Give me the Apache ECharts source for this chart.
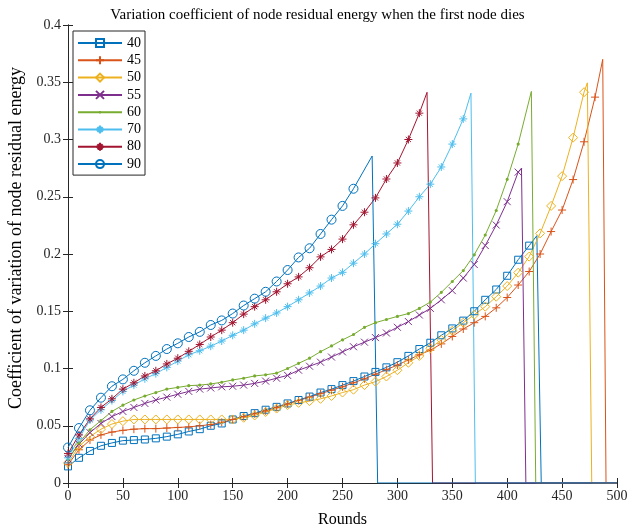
<!DOCTYPE html>
<html>
<head>
<meta charset="utf-8">
<script src="https://cdn.jsdelivr.net/npm/echarts@6/dist/echarts.min.js"></script>
<style>
    html, body { margin: 0; padding: 0; background: #fff; }
    #chart { width: 635px; height: 528px; }
</style>
</head>
<body>
<div id="chart"></div>
<script>
// node counts (legend) and matlab default colours
const names = ['40', '45', '50', '55', '60', '70', '80', '90'];
const colors = ['#0072BD', '#D95319', '#EDB120', '#7E2F8E', '#77AC30', '#4DBEEE', '#A2142F', '#0072BD'];

// markers are every 10 rounds, starting at round 0
const markerStep = 10;
const cv40 = [0.0145, 0.022, 0.028, 0.0325, 0.035, 0.037, 0.0375, 0.038, 0.039, 0.0405, 0.0425, 0.045, 0.047, 0.05, 0.052,
    0.0555, 0.0585, 0.061, 0.064, 0.0665, 0.0695, 0.0725, 0.0755, 0.079, 0.082, 0.0855, 0.089, 0.093, 0.097, 0.101,
    0.1055, 0.111, 0.117, 0.1225, 0.129, 0.135, 0.1418, 0.15, 0.16, 0.169, 0.181, 0.195, 0.2073];
const cv45 = [0.016, 0.029, 0.0375, 0.042, 0.0445, 0.046, 0.047, 0.0475, 0.0475, 0.048, 0.0485, 0.049, 0.05, 0.051, 0.053,
    0.0555, 0.058, 0.0605, 0.063, 0.066, 0.069, 0.072, 0.075, 0.078, 0.081, 0.084, 0.0875, 0.091, 0.095, 0.099,
    0.103, 0.1075, 0.112, 0.116, 0.1215, 0.128, 0.1345, 0.14, 0.1455, 0.153, 0.162, 0.1729, 0.1847, 0.2, 0.2196,
    0.2384, 0.265, 0.298, 0.337];
const cv50 = [0.0175, 0.032, 0.0405, 0.047, 0.0515, 0.054, 0.0555, 0.0555, 0.0555, 0.0555, 0.0555, 0.0555, 0.0555, 0.0555, 0.0555,
    0.0555, 0.057, 0.059, 0.062, 0.065, 0.068, 0.07, 0.0715, 0.0735, 0.076, 0.079, 0.0815, 0.0855, 0.0885, 0.093,
    0.0985, 0.105, 0.111, 0.1177, 0.125, 0.133, 0.14, 0.147, 0.154, 0.1627, 0.172, 0.1837, 0.1977, 0.218, 0.242,
    0.268, 0.3016, 0.3413];
const cv55 = [0.021, 0.034, 0.044, 0.052, 0.058, 0.0625, 0.066, 0.0695, 0.0725, 0.075, 0.0775, 0.08, 0.082, 0.083, 0.084,
    0.0845, 0.0855, 0.087, 0.089, 0.0915, 0.094, 0.0985, 0.102, 0.1055, 0.11, 0.1145, 0.119, 0.123, 0.127, 0.131,
    0.136, 0.141, 0.1467, 0.1525, 0.16, 0.168, 0.179, 0.1908, 0.2074, 0.2253, 0.2457, 0.2715];
const cv60 = [0.0205, 0.035, 0.0465, 0.0545, 0.0625, 0.068, 0.0725, 0.076, 0.079, 0.082, 0.0835, 0.085, 0.0855, 0.0865, 0.088,
    0.09, 0.0915, 0.0935, 0.0945, 0.096, 0.1, 0.1045, 0.109, 0.1147, 0.1197, 0.125, 0.1297, 0.136, 0.14, 0.1428,
    0.1455, 0.148, 0.1525, 0.158, 0.1665, 0.176, 0.1855, 0.1993, 0.2166, 0.238, 0.2652, 0.296];
const cv70 = [0.022, 0.039, 0.055, 0.064, 0.072, 0.08, 0.0855, 0.091, 0.0955, 0.101, 0.1065, 0.112, 0.1155, 0.1195, 0.124,
    0.129, 0.1335, 0.139, 0.144, 0.1485, 0.154, 0.16, 0.166, 0.172, 0.179, 0.184, 0.192, 0.2, 0.209, 0.2175,
    0.226, 0.2375, 0.25, 0.261, 0.276, 0.296, 0.318];
const cv80 = [0.0257, 0.042, 0.056, 0.066, 0.0735, 0.082, 0.0875, 0.0935, 0.098, 0.104, 0.109, 0.115, 0.121, 0.1275, 0.1335,
    0.14, 0.1475, 0.154, 0.16, 0.167, 0.174, 0.18, 0.188, 0.1975, 0.204, 0.213, 0.2255, 0.2365, 0.249, 0.2655,
    0.2795, 0.3, 0.323];
const cv90 = [0.031, 0.048, 0.0635, 0.0745, 0.0845, 0.0905, 0.098, 0.105, 0.111, 0.117, 0.122, 0.1275, 0.132, 0.138, 0.142,
    0.148, 0.155, 0.161, 0.167, 0.176, 0.186, 0.197, 0.205, 0.2175, 0.23, 0.242, 0.257];
const values = [cv40, cv45, cv50, cv55, cv60, cv70, cv80, cv90];

// value reached just before the first node dies, then the curve falls to 0
const peakRound = [427, 487, 473, 413, 422, 367, 327, 277];
const peakValue = [0.216, 0.370, 0.3495, 0.275, 0.342, 0.3405, 0.3412, 0.2856];
const deathRound = [431, 490, 477, 417, 426, 371, 332, 282];
const endRound = 500;

const plus = 'path://M5,0V10M0,5H10';
const cross = 'path://M0.5,0.5L9.5,9.5M9.5,0.5L0.5,9.5';
const star = 'path://M5,0V10M0,5H10M1.8,1.8L8.2,8.2M8.2,1.8L1.8,8.2';
// small dot inside an empty 10x10 box, so it stays small in the legend too
const dot = 'path://M0,0L0.01,0M10,10L9.99,10M6.6,5A1.6,1.6,0,1,1,6.6,4.99Z';
const symbols = ['rect', plus, 'diamond', cross, dot, star, star, 'circle'];
const symbolSizes = [7, 8, 9, 7, 10, 8, 8, 9];

const font = 'Liberation Serif';

var series = names.map(function (name, k) {
    var data = values[k].map(function (v, i) { return [i * markerStep, v]; });
    data.push({ value: [peakRound[k], peakValue[k]], symbol: 'none' });
    data.push({ value: [deathRound[k], 0], symbol: 'none' });
    data.push({ value: [endRound, 0], symbol: 'none' });
    var filled = k === 4;
    return {
        name: name,
        type: 'line',
        data: data,
        color: colors[k],
        symbol: symbols[k],
        symbolSize: symbolSizes[k],
        showAllSymbol: true,
        animation: false,
        lineStyle: { color: colors[k], width: 1 },
        itemStyle: filled ? { color: colors[k], borderWidth: 0 } : { color: 'rgba(0,0,0,0)', borderColor: colors[k], borderWidth: 1 },
        emphasis: { disabled: true }
    };
});

var chart = echarts.init(document.getElementById('chart'));
var axisLine = { show: true, lineStyle: { color: '#262626', width: 1 } };
var tick = { show: true, inside: true, length: 5, lineStyle: { color: '#262626' } };
var option = {
    backgroundColor: '#fff',
    animation: false,
    title: {
        text: 'Variation coefficient of node residual energy when the first node dies',
        left: 'center',
        top: 3,
        textStyle: { fontFamily: font, fontSize: 15, fontWeight: 'normal', color: '#000' }
    },
    legend: {
        orient: 'vertical',
        left: 73,
        top: 31,
        data: names,
        itemWidth: 44,
        itemHeight: 10,
        itemGap: 3.3,
        padding: [5, 4, 4, 4],
        borderColor: '#262626',
        borderWidth: 1,
        backgroundColor: '#fff',
        textStyle: { fontFamily: font, fontSize: 14, color: '#000' }
    },
    grid: { left: 68, right: 18, top: 25, bottom: 45, outerBoundsMode: 'none', containLabel: false },
    xAxis: [{
        type: 'value', min: 0, max: 500, interval: 50,
        name: 'Rounds', nameLocation: 'middle', nameGap: 29,
        nameTextStyle: { fontFamily: font, fontSize: 16, color: '#000' },
        axisLine: axisLine, axisTick: tick,
        axisLabel: { fontFamily: font, fontSize: 14, color: '#262626', margin: 6 },
        splitLine: { show: false }
    }, {
        type: 'value', min: 0, max: 500, interval: 50, position: 'top',
        axisLine: axisLine, axisTick: tick, axisLabel: { show: false }, splitLine: { show: false }
    }],
    yAxis: [{
        type: 'value', min: 0, max: 0.4, interval: 0.05,
        name: 'Coefficient of variation of node residual energy', nameLocation: 'middle', nameGap: 38,
        nameTextStyle: { fontFamily: font, fontSize: 18, color: '#000', padding: [0, 0, 0, 32] },
        axisLine: axisLine, axisTick: tick,
        axisLabel: { fontFamily: font, fontSize: 14, color: '#262626', margin: 7 },
        splitLine: { show: false }
    }, {
        type: 'value', min: 0, max: 0.4, interval: 0.05, position: 'right',
        axisLine: axisLine, axisTick: tick, axisLabel: { show: false }, splitLine: { show: false }
    }],
    series: series
};
chart.setOption(option);
</script>
</body>
</html>
